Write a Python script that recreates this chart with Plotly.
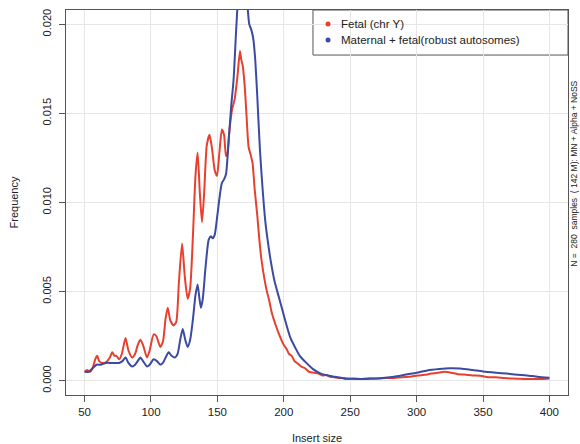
import plotly.graph_objects as go

# ---- data ----
fetal_x = [50, 52, 54, 56, 58, 59.5, 61, 63, 65, 67, 69, 70.8, 72.5, 74, 76, 78, 80.8, 83, 85.8, 88,
           90, 92, 94, 97, 99, 102, 104, 107, 109, 111, 112.6, 114.5, 117, 119, 121, 123.4, 125.5,
           127.6, 129.5, 131.5, 133.5, 135.1, 136.8, 138.4, 140, 142, 144.1, 146, 148, 149.7, 151.5,
           153.4, 155, 156.5, 157.5, 159, 161, 163, 165, 167, 168, 169, 170.5, 172, 173.5, 175,
           176.5, 178, 180, 181.5, 183, 185, 187, 189, 191, 194, 197, 200, 202, 204, 206, 208, 210,
           213, 216, 219, 223, 226, 229, 232, 235, 238, 241, 244, 247, 253, 259, 265, 271, 277, 283,
           289, 295, 301, 306, 311, 316, 321, 326, 331, 336, 342, 348, 354, 360, 366, 372, 378, 384,
           390, 395, 400]
fetal_y = [0.0005, 0.0006, 0.0005, 0.0007, 0.0012, 0.0014, 0.0011, 0.0010, 0.0010, 0.0011, 0.0013,
           0.0016, 0.0014, 0.0014, 0.0012, 0.0015, 0.0024, 0.0017, 0.0013, 0.0015, 0.0020, 0.0023,
           0.0020, 0.0013, 0.0017, 0.0026, 0.0025, 0.0019, 0.0022, 0.0035, 0.0041, 0.0034, 0.0031,
           0.0033, 0.0055, 0.0077, 0.0058, 0.0046, 0.0052, 0.0080, 0.0115, 0.0128, 0.0105, 0.0089,
           0.0105, 0.0132, 0.0138, 0.0130, 0.0118, 0.0115, 0.0128, 0.0141, 0.0138, 0.0126, 0.0127,
           0.0140, 0.0152, 0.0158, 0.0170, 0.0185, 0.0180, 0.0177, 0.0166, 0.0148, 0.0131, 0.0127,
           0.0122, 0.0108, 0.0093, 0.0080, 0.0069, 0.0059, 0.0051, 0.0045, 0.0038, 0.0031, 0.0025,
           0.0020, 0.0018, 0.0015, 0.0014, 0.0011, 0.0010, 0.0008, 0.0007, 0.0005, 0.00045, 0.0004,
           0.0003, 0.00032, 0.00022, 0.0002, 0.00016, 0.00015, 0.0001, 0.00012, 0.0001, 0.00014,
           0.00012, 0.00016, 0.00015, 0.0002, 0.00022, 0.0003, 0.00033, 0.0004, 0.00045, 0.0005,
           0.00045, 0.00037, 0.00035, 0.0003, 0.00028, 0.0002, 0.0002, 0.00015, 0.00012, 0.00011,
           0.0001, 0.0001, 0.0001, 0.00012]

mixed_x = [50, 53, 56, 59, 62, 66, 70, 73, 76, 78.5, 80.8, 83, 85.8, 88, 90, 92, 94, 97, 99, 102,
           104.5, 107, 109, 111, 113.3, 115.5, 118, 120, 122, 123.9, 125.8, 127.6, 129.5, 131.5,
           133.5, 135.1, 136.5, 137.6, 139, 141, 143.4, 145, 146.5, 148, 150, 152, 153.4, 155,
           156.5, 158.5, 160.5, 162.2, 164, 165.5, 167, 169, 171, 172.5, 174, 175.5, 177, 178.5,
           180, 182, 184, 186, 188, 190, 193, 197, 201, 205, 209, 212, 217, 222, 228, 235, 242,
           248, 255, 262, 270, 278, 285, 292, 300, 308, 317, 325, 333, 342, 350, 360, 368, 376,
           383, 391, 400]
mixed_y = [0.0005, 0.0005, 0.0007, 0.0009, 0.0009, 0.0010, 0.0010, 0.0010, 0.0010, 0.0011, 0.0013,
           0.0010, 0.0008, 0.0009, 0.0011, 0.0013, 0.0011, 0.0008, 0.0009, 0.0012, 0.0011, 0.0009,
           0.0010, 0.0013, 0.0016, 0.0014, 0.0013, 0.0015, 0.0023, 0.0029, 0.0023, 0.0019, 0.0023,
           0.0034, 0.0048, 0.0054, 0.0046, 0.0041, 0.0046, 0.0063, 0.0079, 0.0081, 0.0080, 0.0082,
           0.0093, 0.0105, 0.0111, 0.0113, 0.0116, 0.0135, 0.0155, 0.0169, 0.0195, 0.0215, 0.0232,
           0.0238, 0.0228, 0.0212, 0.0200, 0.0197, 0.0192, 0.0180, 0.0160, 0.0130, 0.0108, 0.0090,
           0.0078, 0.0068, 0.0056, 0.0045, 0.0034, 0.0024, 0.0018, 0.0014, 0.0010, 0.00065, 0.0004,
           0.00027, 0.00018, 0.00012, 0.0001, 0.0001, 0.00013, 0.00018, 0.00025, 0.00035, 0.00045,
           0.00058, 0.00066, 0.0007, 0.00068, 0.0006, 0.00052, 0.00045, 0.0004, 0.00034, 0.0003,
           0.00023, 0.00017]

series_names = ["Fetal (chr Y)", "Maternal + fetal(robust autosomes)"]
series_colors = ["#e8402e", "#3b4aa3"]
x_ticks = [50, 100, 150, 200, 250, 300, 350, 400]
y_ticks = [0.0, 0.005, 0.010, 0.015, 0.020]
y_tick_text = ["0.000", "0.005", "0.010", "0.015", "0.020"]
side_note = "N =  280  samples  ( 142 M): MN + Alpha + NoSS"

FONT = "Liberation Sans, Arial, sans-serif"
TXT = "#222222"

fig = go.Figure()
for xs, ys, name, col in [(fetal_x, fetal_y, series_names[0], series_colors[0]),
                          (mixed_x, mixed_y, series_names[1], series_colors[1])]:
    fig.add_trace(go.Scatter(x=xs, y=ys, mode="lines", name=name,
                             line=dict(color=col, width=2, shape="spline", smoothing=0.6),
                             showlegend=False, hoverinfo="skip"))

# ---- legend box drawn R-style (dots + labels) in plot-fraction coordinates ----
leg_x0, leg_x1, leg_y0, leg_y1 = 0.492, 1.0, 0.883, 1.0
leg_dot_x = 0.522
leg_text_x = 0.543
leg_rows_y = [0.9636, 0.922]

fig.add_shape(type="rect", xref="paper", yref="paper", x0=leg_x0, x1=leg_x1, y0=leg_y0, y1=leg_y1,
              line=dict(color="#555555", width=1), fillcolor="white", layer="between")
fig.add_trace(go.Scatter(x=[leg_dot_x] * 2, y=leg_rows_y, xaxis="x2", yaxis="y2", mode="markers",
                         marker=dict(color=series_colors, size=5), showlegend=False, hoverinfo="skip"))
for name, yy in zip(series_names, leg_rows_y):
    fig.add_annotation(text=name, xref="paper", yref="paper", x=leg_text_x, y=yy, xanchor="left",
                       yanchor="middle", showarrow=False, font=dict(size=11.5, color=TXT))

fig.update_layout(
    width=580, height=444,
    margin=dict(l=66, r=12, t=10, b=49),
    paper_bgcolor="white", plot_bgcolor="white",
    font=dict(family=FONT, size=11, color=TXT),
    showlegend=False,
    xaxis=dict(range=[36, 414], tickvals=x_ticks, showgrid=True, gridcolor="#e6e6e6", gridwidth=1,
               zeroline=False, showline=True, mirror=True, linecolor="#555", linewidth=1,
               ticks="outside", ticklen=6, tickcolor="#555", tickfont=dict(size=11.5), automargin=False,
               title=dict(text="Insert size", font=dict(size=11), standoff=23)),
    yaxis=dict(range=[-0.0008, 0.0208], tickvals=y_ticks, ticktext=y_tick_text, tickangle=-90,
               showgrid=True, gridcolor="#e6e6e6", gridwidth=1, zeroline=False, showline=True,
               mirror=True, linecolor="#555", linewidth=1, ticks="outside", ticklen=6, tickcolor="#555",
               tickfont=dict(size=11), ticklabelstandoff=4, automargin=False,
               title=dict(text="Frequency", font=dict(size=11), standoff=19)),
    xaxis2=dict(overlaying="x", range=[0, 1], visible=False, fixedrange=True),
    yaxis2=dict(overlaying="y", range=[0, 1], visible=False, fixedrange=True),
)
fig.add_annotation(text=side_note, xref="paper", yref="paper", x=1.0, y=0.575, xanchor="left",
                   yanchor="middle", xshift=-1, textangle=-90, showarrow=False,
                   font=dict(size=8.5, color=TXT))

fig.write_html("out.html")
